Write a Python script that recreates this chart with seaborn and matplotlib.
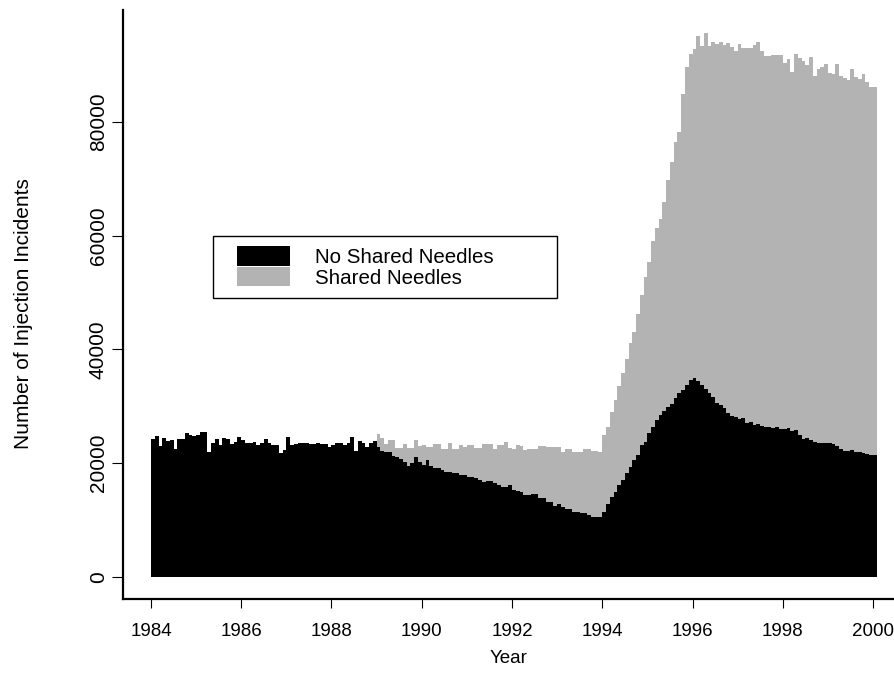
import numpy as np
import pandas as pd
import matplotlib
matplotlib.use("Agg")
import matplotlib.pyplot as plt
import seaborn as sns
from matplotlib.patches import Patch
from matplotlib.legend_handler import HandlerPatch

# ---------------- data (monthly, Jan 1984 .. Jan 2000) ----------------
start_year = 1984
year_ticks = [1984, 1986, 1988, 1990, 1992, 1994, 1996, 1998, 2000]
count_ticks = [0, 20000, 40000, 60000, 80000]
series_labels = ["No Shared Needles", "Shared Needles"]

# injections without shared needles (black), one value per month
no_shared = [
    24200, 24800, 23000, 24500, 23900, 24000, 22500, 24200, 24200, 25260, 24970, 24790,
    24970, 25550, 25550, 22030, 23500, 24200, 23200, 24380, 24200, 23400, 23800, 24550,
    24100, 23600, 23600, 23800, 23200, 23500, 24200, 23500, 23200, 23200, 21740, 22300,
    24550, 23200, 23400, 23500, 23500, 23600, 23400, 23400, 23600, 23400, 23400, 22900,
    23200, 23600, 23600, 23200, 23500, 24550, 22200, 23900, 23600, 22900, 23500, 23900,
    22900, 22150, 22030, 22030, 21270, 21150, 20700, 20270, 19510, 20100, 21150, 20270,
    19690, 20570, 19510, 19100, 19100, 18810, 18520, 18520, 18230, 18230, 17930, 17930,
    17640, 17640, 17350, 17060, 16760, 16940, 16940, 16470, 16170, 15880, 15880, 16170,
    15350, 15050, 14900, 14400, 14400, 14590, 14590, 13830, 13830, 13240, 13240, 12500,
    12800, 12360, 11950, 11950, 11490, 11490, 11190, 11190, 10900, 10490, 10490, 10490,
    11500, 12900, 14100, 15000, 16200, 17000, 18200, 19400, 20600, 21500, 23200, 23800,
    25300, 26400, 27600, 28500, 29100, 29900, 30500, 31400, 32300, 32900, 33800, 34600,
    35000, 34400, 33800, 33000, 32300, 31600, 30600, 30200, 29700, 28800, 28300, 28100,
    27800, 28000, 27000, 27300, 26700, 26900, 26600, 26400, 26400, 26200, 26300, 26000,
    26000, 26200, 25600, 25800, 25000, 24300, 24500, 24000, 23800, 23600, 23500, 23500,
    23500, 23300, 23000, 22500, 22200, 22200, 22300, 22000, 21900, 21800, 21700, 21500,
    21400,
]

# all injections (top of grey) from Jan 1989 onwards; before 1989 none were shared
all_from_1989 = [
    25100, 24400, 23300, 24100, 24100, 22630, 22630, 23400, 22630, 22630, 24000, 23000,
    23180, 22800, 22800, 23400, 23400, 22450, 22450, 23500, 22450, 22450, 23180, 22900,
    23180, 23180, 22630, 22630, 23400, 23400, 23400, 22450, 23180, 23180, 23650, 22630,
    22500, 23200, 23000, 22330, 22500, 22500, 22500, 23030, 23030, 22800, 22800, 22800,
    22800, 22030, 22440, 22440, 22030, 22030, 22030, 22440, 22440, 22210, 22210, 22030,
    25000, 26400, 29000, 31100, 33500, 35800, 38400, 41100, 43100, 46300, 49600, 52800,
    55400, 59000, 61300, 63000, 66000, 69800, 73000, 76500, 78300, 85000, 89700, 91900,
    92800, 95100, 93400, 95600, 93400, 94000, 93800, 94000, 93500, 93900, 93200, 92500,
    93700, 93000, 93000, 93000, 93500, 94100, 92400, 91600, 91600, 91800, 91800, 91800,
    90400, 91000, 88800, 92000, 91200, 90800, 90000, 91400, 88100, 89300, 89600, 90200,
    88700, 88400, 90200, 88100, 87700, 87300, 89300, 87900, 87600, 88400, 87000, 86100,
    86100,
]

n_before = len(no_shared) - len(all_from_1989)
all_incidents = no_shared[:n_before] + all_from_1989
n = len(no_shared)
month_mid = start_year + (np.arange(n) + 0.5) / 12.0
month_edges = (start_year + np.arange(n + 1) / 12.0).tolist()
df = pd.DataFrame({"year": month_mid, "no_shared": no_shared, "total": all_incidents})

# ---------------- figure ----------------
sns.set_style("ticks")
plt.rcParams["font.family"] = ["Liberation Sans", "DejaVu Sans"]
plt.rcParams["text.color"] = "black"
plt.rcParams["axes.labelcolor"] = "black"
plt.rcParams["xtick.color"] = "black"
plt.rcParams["ytick.color"] = "black"

W, H = 894, 683
fig = plt.figure(figsize=(W / 100, H / 100), dpi=100)
ax = fig.add_axes([123 / W, 84 / H, 771 / W, 589 / H])

grey = "#b3b3b3"
sns.histplot(data=df, x="year", weights="total", bins=month_edges, element="step",
             fill=True, color=grey, alpha=1, linewidth=0, ax=ax)
sns.histplot(data=df, x="year", weights="no_shared", bins=month_edges, element="step",
             fill=True, color="black", alpha=1, linewidth=0, ax=ax)

ax.set_xlim(1983.38, 2000.465)
ax.set_ylim(-3868, 99690)
ax.set_xticks(year_ticks)
ax.set_xticklabels([str(y) for y in year_ticks])
ax.set_yticks(count_ticks)
ax.set_yticklabels([str(c) for c in count_ticks])

for side in ("top", "right"):
    ax.spines[side].set_visible(False)
for side in ("left", "bottom"):
    ax.spines[side].set_color("black")
    ax.spines[side].set_linewidth(1.6)

ax.tick_params(axis="y", length=8, width=0.8, pad=3, labelsize=15,
               labelrotation=90, colors="black")
ax.tick_params(axis="x", length=6.5, width=0.8, pad=11, labelsize=13.5, colors="black")
for lab in ax.get_yticklabels():
    lab.set_va("center")

ax.set_xlabel("Year", fontsize=13.5)
ax.set_ylabel("Number of Injection Incidents", fontsize=15)
ax.xaxis.set_label_coords(0.4994, -0.0865)
ax.yaxis.set_label_coords(-0.1167, 0.484)

handles = [Patch(facecolor="black", edgecolor="none", label=series_labels[0]),
           Patch(facecolor=grey, edgecolor="none", label=series_labels[1])]
leg = ax.legend(handles=handles, loc="upper left",
                bbox_to_anchor=(213 / W, (H - 305) / H, 344 / W, 69 / H),
                bbox_transform=fig.transFigure, mode="expand", borderaxespad=0,
                fontsize=14.8, handlelength=3.27, handleheight=1.09, labelspacing=0,
                handletextpad=1.21, borderpad=0.49, frameon=True, fancybox=False,
                framealpha=1, edgecolor="black",
                handler_map={Patch: HandlerPatch(xpad=0.70)})
leg.get_frame().set_linewidth(1.0)

fig.savefig("out.png", dpi=100)
